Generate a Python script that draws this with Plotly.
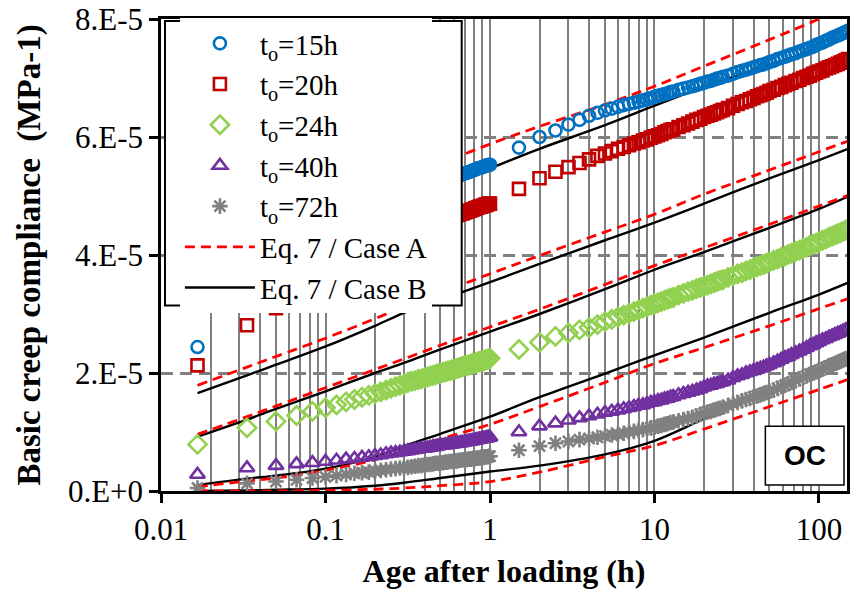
import math
import plotly.graph_objects as go

# ---------------- data (compliance values in 1e-5 MPa^-1) ----------------
UNIT = 1e-5

# early readings: every minute during the first hour
minutes = [1, 2, 3, 4, 5, 6, 7, 8, 9, 10, 11, 12, 13, 14, 15, 16, 17, 18, 19, 20,
           21, 22, 23, 24, 25, 26, 27, 28, 29, 30, 31, 32, 33, 34, 35, 36, 37, 38, 39, 40,
           41, 42, 43, 44, 45, 46, 47, 48, 49, 50, 51, 52, 53, 54, 55, 56, 57, 58, 59, 60]
t_early = [m / 60 for m in minutes]  # hours

# later readings (hours)
t_late = [1.5, 2, 2.5, 3, 3.5, 4, 4.5, 5, 5.5, 6, 6.5, 7, 7.5, 8, 8.5, 9, 9.5, 10,
          10.5, 11, 11.5, 12, 12.5, 13,
          14, 15, 16, 17, 18, 19, 20, 21, 22, 23, 24, 25, 26,
          28, 30, 32, 34, 36, 38, 40, 42, 44, 46, 48, 50,
          53, 56, 59, 62, 65, 68,
          72, 76, 80, 84, 88, 92, 96, 100,
          105, 110, 115, 120, 125, 130, 135, 140, 145, 150]

t15_early = [2.44, 3.14, 3.52, 3.79, 3.99, 4.15, 4.28, 4.38, 4.47, 4.55,
             4.61, 4.66, 4.71, 4.75, 4.80, 4.84, 4.87, 4.91, 4.94, 4.98,
             5.00, 5.03, 5.06, 5.08, 5.11, 5.13, 5.15, 5.18, 5.20, 5.22,
             5.23, 5.25, 5.27, 5.28, 5.30, 5.31, 5.32, 5.34, 5.35, 5.36,
             5.37, 5.38, 5.39, 5.40, 5.41, 5.42, 5.43, 5.44, 5.45, 5.46,
             5.47, 5.48, 5.48, 5.49, 5.50, 5.51, 5.51, 5.52, 5.53, 5.53]
t15_late = [5.82, 6.00, 6.11, 6.21, 6.29, 6.36, 6.41, 6.45, 6.48, 6.51, 6.54, 6.56, 6.58, 6.60, 6.62, 6.64, 6.66, 6.68,
            6.70, 6.71, 6.73, 6.74, 6.76, 6.77,
            6.80, 6.82, 6.84, 6.86, 6.88, 6.90, 6.92, 6.94, 6.95, 6.97, 6.99, 7.00, 7.02,
            7.04, 7.07, 7.10, 7.12, 7.14, 7.16, 7.18, 7.20, 7.22, 7.23, 7.25, 7.27,
            7.29, 7.32, 7.34, 7.36, 7.38, 7.40,
            7.42, 7.45, 7.47, 7.49, 7.51, 7.53, 7.56, 7.58,
            7.60, 7.63, 7.65, 7.68, 7.70, 7.72, 7.74, 7.76, 7.78, 7.80]

t20_early = [2.13, 2.81, 3.10, 3.35, 3.52, 3.65, 3.76, 3.84, 3.92, 3.99,
             4.04, 4.08, 4.12, 4.16, 4.20, 4.23, 4.26, 4.30, 4.33, 4.36,
             4.38, 4.41, 4.43, 4.45, 4.48, 4.50, 4.52, 4.54, 4.56, 4.58,
             4.59, 4.61, 4.62, 4.63, 4.65, 4.66, 4.67, 4.68, 4.69, 4.70,
             4.71, 4.72, 4.73, 4.74, 4.75, 4.76, 4.77, 4.78, 4.79, 4.80,
             4.81, 4.82, 4.82, 4.83, 4.84, 4.85, 4.85, 4.86, 4.87, 4.87]
t20_late = [5.12, 5.30, 5.41, 5.49, 5.56, 5.62, 5.68, 5.72, 5.76, 5.80, 5.83, 5.86, 5.89, 5.91, 5.94, 5.96, 5.99, 6.01,
            6.03, 6.05, 6.08, 6.10, 6.12, 6.13,
            6.17, 6.20, 6.23, 6.26, 6.29, 6.31, 6.34, 6.36, 6.38, 6.40, 6.42, 6.44, 6.46,
            6.49, 6.53, 6.56, 6.59, 6.61, 6.64, 6.66, 6.69, 6.71, 6.73, 6.75, 6.78,
            6.80, 6.83, 6.85, 6.88, 6.90, 6.92,
            6.95, 6.97, 7.00, 7.02, 7.04, 7.07, 7.09, 7.11,
            7.13, 7.16, 7.18, 7.20, 7.22, 7.24, 7.26, 7.28, 7.30, 7.32]

t24_early = [0.79, 1.07, 1.18, 1.28, 1.35, 1.41, 1.46, 1.51, 1.55, 1.59,
             1.62, 1.65, 1.68, 1.71, 1.74, 1.77, 1.79, 1.81, 1.84, 1.86,
             1.87, 1.89, 1.90, 1.92, 1.93, 1.95, 1.96, 1.97, 1.99, 2.00,
             2.01, 2.02, 2.03, 2.04, 2.05, 2.06, 2.07, 2.08, 2.09, 2.10,
             2.11, 2.12, 2.12, 2.13, 2.14, 2.15, 2.16, 2.16, 2.17, 2.18,
             2.19, 2.19, 2.20, 2.21, 2.21, 2.22, 2.23, 2.23, 2.24, 2.25]
t24_late = [2.40, 2.52, 2.62, 2.68, 2.73, 2.77, 2.82, 2.87, 2.91, 2.95, 2.98, 3.01, 3.04, 3.07, 3.10, 3.12, 3.15, 3.17,
            3.19, 3.21, 3.23, 3.25, 3.27, 3.28,
            3.32, 3.35, 3.38, 3.40, 3.43, 3.45, 3.47, 3.49, 3.51, 3.53, 3.55, 3.57, 3.58,
            3.62, 3.65, 3.68, 3.70, 3.73, 3.75, 3.78, 3.80, 3.82, 3.84, 3.86, 3.88,
            3.91, 3.93, 3.96, 3.98, 4.01, 4.03,
            4.06, 4.08, 4.11, 4.13, 4.16, 4.18, 4.20, 4.22,
            4.25, 4.27, 4.30, 4.32, 4.34, 4.36, 4.38, 4.40, 4.42, 4.44]

t40_early = [0.28, 0.39, 0.43, 0.46, 0.48, 0.50, 0.52, 0.54, 0.55, 0.57,
             0.58, 0.60, 0.61, 0.63, 0.64, 0.65, 0.66, 0.67, 0.68, 0.69,
             0.70, 0.71, 0.72, 0.72, 0.73, 0.74, 0.75, 0.75, 0.76, 0.77,
             0.77, 0.78, 0.78, 0.79, 0.79, 0.80, 0.80, 0.81, 0.81, 0.82,
             0.82, 0.83, 0.83, 0.84, 0.84, 0.85, 0.85, 0.86, 0.86, 0.87,
             0.87, 0.88, 0.88, 0.89, 0.89, 0.89, 0.90, 0.90, 0.91, 0.91]
t40_late = [1.00, 1.10, 1.15, 1.20, 1.24, 1.27, 1.30, 1.33, 1.35, 1.37, 1.39, 1.41, 1.43, 1.45, 1.46, 1.48, 1.50, 1.51,
            1.53, 1.54, 1.56, 1.57, 1.59, 1.60,
            1.63, 1.65, 1.67, 1.69, 1.71, 1.73, 1.76, 1.78, 1.79, 1.81, 1.82, 1.84, 1.85,
            1.88, 1.92, 1.95, 1.97, 2.00, 2.02, 2.04, 2.06, 2.08, 2.10, 2.12, 2.14,
            2.17, 2.20, 2.23, 2.26, 2.28, 2.31,
            2.34, 2.37, 2.40, 2.43, 2.46, 2.48, 2.51, 2.53,
            2.56, 2.58, 2.61, 2.63, 2.65, 2.67, 2.69, 2.71, 2.73, 2.75]

t72_early = [0.05, 0.13, 0.16, 0.19, 0.22, 0.24, 0.26, 0.28, 0.30, 0.31,
             0.32, 0.34, 0.35, 0.36, 0.37, 0.38, 0.39, 0.39, 0.40, 0.41,
             0.42, 0.43, 0.43, 0.44, 0.45, 0.45, 0.46, 0.47, 0.47, 0.48,
             0.48, 0.49, 0.49, 0.50, 0.50, 0.50, 0.51, 0.51, 0.52, 0.52,
             0.53, 0.53, 0.53, 0.54, 0.54, 0.54, 0.55, 0.55, 0.55, 0.56,
             0.56, 0.56, 0.57, 0.57, 0.57, 0.58, 0.58, 0.58, 0.59, 0.59]
t72_late = [0.69, 0.76, 0.81, 0.84, 0.87, 0.89, 0.91, 0.93, 0.95, 0.96, 0.98, 1.00, 1.01, 1.03, 1.04, 1.05, 1.07, 1.08,
            1.10, 1.11, 1.13, 1.14, 1.16, 1.17,
            1.19, 1.21, 1.23, 1.25, 1.27, 1.30, 1.32, 1.34, 1.35, 1.37, 1.39, 1.40, 1.42,
            1.45, 1.48, 1.50, 1.53, 1.55, 1.57, 1.59, 1.61, 1.63, 1.65, 1.67, 1.69,
            1.71, 1.74, 1.77, 1.79, 1.82, 1.84,
            1.87, 1.90, 1.93, 1.95, 1.98, 2.00, 2.02, 2.04,
            2.07, 2.09, 2.12, 2.14, 2.16, 2.18, 2.20, 2.22, 2.24, 2.26]

# Eq. 7 model curves
t_model = [1 / 60, 2 / 60, 3 / 60, 0.1, 0.2, 0.3, 0.5, 1, 2, 5, 10, 20, 50, 100, 150]
caseA_15 = [3.95, 4.28, 4.45, 4.78, 5.10, 5.30, 5.55, 5.88, 6.18, 6.55, 6.86, 7.20, 7.65, 8.00, 8.22]
caseA_20 = [1.79, 2.10, 2.28, 2.59, 2.92, 3.13, 3.36, 3.68, 3.99, 4.39, 4.69, 5.03, 5.44, 5.75, 5.93]
caseA_24 = [0.96, 1.26, 1.44, 1.75, 2.06, 2.24, 2.47, 2.78, 3.08, 3.50, 3.82, 4.12, 4.52, 4.83, 5.01]
caseA_40 = [0.07, 0.17, 0.22, 0.35, 0.53, 0.68, 0.88, 1.13, 1.43, 1.84, 2.16, 2.43, 2.80, 3.09, 3.26]
caseA_72 = [0.00, 0.00, 0.00, 0.01, 0.03, 0.05, 0.09, 0.16, 0.32, 0.58, 0.77, 1.05, 1.43, 1.72, 1.89]
caseB_15 = [3.55, 3.88, 4.05, 4.38, 4.70, 4.90, 5.15, 5.47, 5.80, 6.20, 6.53, 6.85, 7.22, 7.50, 7.70]
caseB_20 = [1.66, 1.96, 2.14, 2.45, 2.80, 3.02, 3.24, 3.54, 3.85, 4.25, 4.55, 4.87, 5.30, 5.61, 5.80]
caseB_24 = [0.92, 1.21, 1.39, 1.69, 2.00, 2.17, 2.40, 2.70, 3.00, 3.42, 3.75, 4.05, 4.46, 4.78, 4.99]
caseB_40 = [0.10, 0.21, 0.26, 0.38, 0.58, 0.76, 0.97, 1.26, 1.59, 1.99, 2.30, 2.60, 3.02, 3.33, 3.53]
caseB_72 = [0.00, 0.01, 0.02, 0.04, 0.09, 0.14, 0.22, 0.33, 0.43, 0.62, 0.85, 1.22, 1.68, 2.00, 2.22]

x_tickvals = [0.01, 0.1, 1, 10, 100]
x_ticktext = ["0.01", "0.1", "1", "10", "100"]
y_tickvals = [0, 2, 4, 6, 8]
y_ticktext = ["0.E+0", "2.E-5", "4.E-5", "6.E-5", "8.E-5"]

series = [
    ("t<sub>o</sub>=15h", t15_early, t15_late, "#0070C0", "circle-open", 12),
    ("t<sub>o</sub>=20h", t20_early, t20_late, "#C00000", "square-open", 12),
    ("t<sub>o</sub>=24h", t24_early, t24_late, "#92D050", "diamond-open", 14),
    ("t<sub>o</sub>=40h", t40_early, t40_late, "#7030A0", "triangle-up-open", 13),
    ("t<sub>o</sub>=72h", t72_early, t72_late, "#808080", "asterisk-open", 13),
]
models_A = [caseA_15, caseA_20, caseA_24, caseA_40, caseA_72]
models_B = [caseB_15, caseB_20, caseB_24, caseB_40, caseB_72]

SERIF = "Liberation Serif"
fig = go.Figure()

# model curves (drawn underneath the measurements)
for i, vals in enumerate(models_B):
    fig.add_trace(go.Scatter(
        x=t_model, y=[v * UNIT for v in vals], mode="lines",
        line=dict(color="black", width=2.4, shape="spline"),
        name="Eq. 7 / Case B", showlegend=(i == 0), legendrank=7))
for i, vals in enumerate(models_A):
    fig.add_trace(go.Scatter(
        x=t_model, y=[v * UNIT for v in vals], mode="lines",
        line=dict(color="#FF0000", width=2.8, dash="10px,6px", shape="spline"),
        name="Eq. 7 / Case A", showlegend=(i == 0), legendrank=6))

# measured data
for rank, (name, early, late, color, sym, size) in enumerate(series):
    fig.add_trace(go.Scatter(
        x=t_early + t_late, y=[v * UNIT for v in early + late], mode="markers",
        marker=dict(symbol=sym, size=size, color=color, line=dict(color=color, width=2.6)),
        name=name, legendrank=rank + 1))

# plot-area pixel geometry
L, R, T, B = 161, 2, 18, 108
W, H = 852, 599
pw, ph = W - L - R, H - T - B

def px(x):
    return (x - L) / pw

def py(y):
    return (H - B - y) / ph

grid_col = "#808080"
fig.update_layout(
    width=W, height=H,
    margin=dict(l=L, r=R, t=T, b=B),
    paper_bgcolor="white", plot_bgcolor="white",
    font=dict(family=SERIF, color="black"),
    showlegend=True,
    legend=dict(x=px(180), y=py(17), xanchor="left", yanchor="top",
                bgcolor="white", borderwidth=0,
                font=dict(family=SERIF, size=29, color="black"),
                itemwidth=70, tracegroupgap=0),
    xaxis=dict(type="log", range=[math.log10(0.01), math.log10(148)],
               tickmode="array", tickvals=x_tickvals, ticktext=x_ticktext,
               ticks="outside", ticklen=9, tickwidth=2.5, tickcolor="black",
               showline=True, linecolor="black", linewidth=2.5, mirror=True,
               showgrid=True, gridcolor=grid_col, gridwidth=2,
               minor=dict(dtick="D1", showgrid=True, gridcolor=grid_col, gridwidth=2, ticks=""),
               tickfont=dict(family=SERIF, size=31, color="black"),
               title=dict(text="<b>Age after loading (h)</b>",
                          font=dict(family=SERIF, size=32, color="black"), standoff=14)),
    yaxis=dict(range=[0, 8 * UNIT], tickmode="array",
               tickvals=[v * UNIT for v in y_tickvals], ticktext=y_ticktext,
               ticks="outside", ticklen=9, tickwidth=2.5, tickcolor="black",
               showline=True, linecolor="black", linewidth=2.5, mirror=True,
               showgrid=True, gridcolor=grid_col, gridwidth=2.5, griddash="12px,7px",
               zeroline=False,
               tickfont=dict(family=SERIF, size=31, color="black"),
               title=dict(text="<b>Basic creep compliance \u00a0(MPa-1)</b>",
                          font=dict(family=SERIF, size=33, color="black"), standoff=18)),
    shapes=[
        dict(type="rect", xref="paper", yref="paper", layer="above",
             x0=px(165), x1=px(463), y0=py(305), y1=py(20),
             fillcolor="white", line=dict(color="black", width=2)),
        dict(type="rect", xref="paper", yref="paper", layer="above",
             x0=px(768), x1=px(847), y0=py(485), y1=py(426),
             fillcolor="white", line=dict(color="black", width=1.5)),
    ],
    annotations=[
        dict(text="<b>OC</b>", xref="paper", yref="paper",
             x=(px(768) + px(847)) / 2, y=(py(485) + py(426)) / 2,
             xanchor="center", yanchor="middle",
             showarrow=False, font=dict(family="Liberation Sans", size=28, color="black")),
    ],
)

fig.write_html("out.html")
